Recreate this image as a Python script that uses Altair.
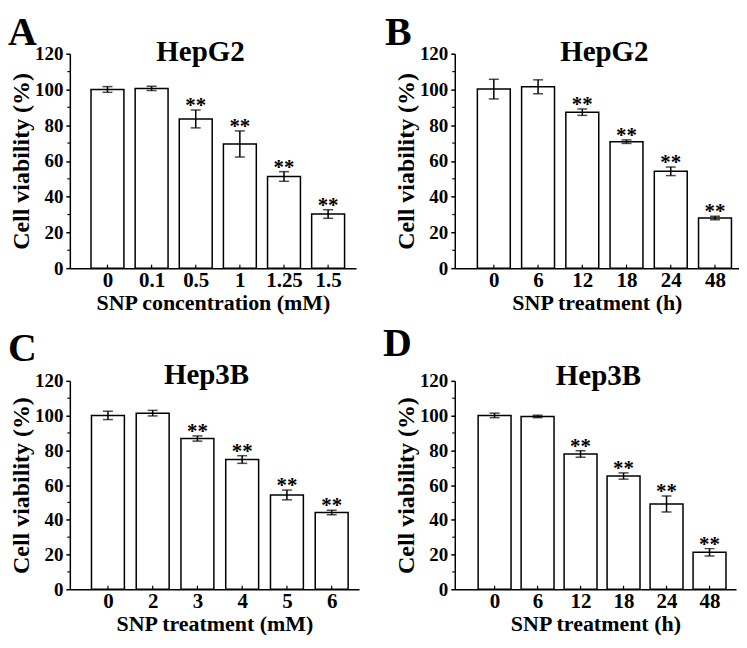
import altair as alt
import pandas as pd

FONT = "Liberation Serif"

# ---- data ----
a_labels = ["0", "0.1", "0.5", "1", "1.25", "1.5"]
a_values = [100.0, 100.6, 83.5, 69.5, 51.3, 30.3]
a_errors = [1.6, 1.2, 5.0, 7.3, 2.7, 2.4]
a_stars = ["", "", "**", "**", "**", "**"]

b_labels = ["0", "6", "12", "18", "24", "48"]
b_values = [100.2, 101.5, 87.3, 70.8, 54.2, 28.1]
b_errors = [5.5, 3.9, 1.8, 1.0, 2.4, 1.0]
b_stars = ["", "", "**", "**", "**", "**"]

c_labels = ["0", "2", "3", "4", "5", "6"]
c_values = [100.1, 101.4, 86.8, 74.7, 54.3, 44.2]
c_errors = [2.4, 1.6, 1.5, 2.2, 2.8, 1.3]
c_stars = ["", "", "**", "**", "**", "**"]

d_labels = ["0", "6", "12", "18", "24", "48"]
d_values = [100.1, 99.5, 77.9, 65.2, 49.1, 21.3]
d_errors = [1.3, 0.7, 1.9, 1.8, 4.6, 2.1]
d_stars = ["", "", "**", "**", "**", "**"]

y_major = [0, 20, 40, 60, 80, 100, 120]
y_minor = [10, 30, 50, 70, 90, 110]
y_title = "Cell viability (%)"


def panel(letter, title, xtitle, labels, values, errors, stars,
          width, height, xdom, bar, title_x, title_y, letter_x, letter_y):
    n = len(labels)
    df = pd.DataFrame({
        "idx": list(range(n)),
        "value": values,
        "lo": [v - e for v, e in zip(values, errors)],
        "hi": [v + e for v, e in zip(values, errors)],
        "sig": stars,
    })
    label_expr = "[" + ",".join("'%s'" % l for l in labels) + "][datum.value]"
    xscale = alt.Scale(domain=xdom, nice=False, zero=False)
    yscale = alt.Scale(domain=[0, 120], nice=False)
    xenc = alt.X("idx:Q", scale=xscale, title=xtitle,
                 axis=alt.Axis(values=list(range(n)), tickCount=20,
                               labelExpr=label_expr,
                               ticks=False, grid=False, labelFontSize=21,
                               titleFontSize=22, labelPadding=1, titlePadding=2,
                               labelFlush=False, labelOverlap=False))
    yenc = alt.Y("value:Q", scale=yscale, title=y_title,
                 axis=alt.Axis(values=y_major, tickCount=20, grid=False, tickSize=4,
                               labelFontSize=19, labelPadding=3,
                               labelOverlap=False, labelFlush=False,
                               titleFontSize=24, titlePadding=1))
    xo = alt.X("idx:Q", title=xtitle)

    bars = alt.Chart(df).mark_bar(size=bar, fill="white", stroke="black",
                                  strokeWidth=1.5).encode(x=xenc, y=yenc)
    err = alt.Chart(df).mark_rule(color="black", strokeWidth=1.5).encode(
        x=xo, y=alt.Y("lo:Q", title=y_title), y2="hi:Q")
    cap_hi = alt.Chart(df).mark_tick(orient="horizontal", size=10, thickness=1.5,
                                     color="black").encode(
        x=xo, y=alt.Y("hi:Q", title=y_title))
    cap_lo = alt.Chart(df).mark_tick(orient="horizontal", size=10, thickness=1.5,
                                     color="black").encode(
        x=xo, y=alt.Y("lo:Q", title=y_title))
    star = alt.Chart(df).transform_filter("datum.sig != ''").mark_text(
        font=FONT, fontWeight="bold", fontSize=21, baseline="alphabetic",
        dy=2, color="black").encode(
        x=xo, y=alt.Y("hi:Q", title=y_title), text="sig:N")
    xticks = alt.Chart(df).mark_rule(color="black", strokeWidth=1.2).encode(
        x=xo, y=alt.value(height), y2=alt.value(height - 3.5))
    minor = alt.Chart(pd.DataFrame({"value": y_minor})).mark_rule(
        color="black", strokeWidth=1.2).encode(
        y=alt.Y("value:Q", title=y_title), x=alt.value(-2.5), x2=alt.value(0))
    one = pd.DataFrame({"k": [0]})
    ttl = alt.Chart(one).mark_text(text=title, font=FONT, fontWeight="bold",
                                   fontSize=29, baseline="alphabetic",
                                   align="center", color="black").encode(
        x=alt.value(title_x), y=alt.value(title_y))
    let = alt.Chart(one).mark_text(text=letter, font=FONT, fontWeight="bold",
                                   fontSize=40, baseline="alphabetic",
                                   align="left", color="black").encode(
        x=alt.value(letter_x), y=alt.value(letter_y))
    return alt.layer(bars, err, cap_hi, cap_lo, star, xticks, minor, ttl, let).properties(
        width=width, height=height)


pa = panel("A", "HepG2", "SNP concentration (mM)", a_labels, a_values, a_errors, a_stars,
           287, 215, [-0.74, 5.52], 33, 131, 7, -62, -9)
pb = panel("B", "HepG2", "SNP treatment (h)", b_labels, b_values, b_errors, b_stars,
           285, 215, [-0.77, 5.43], 33, 150, 7, -70, -9)
pc = panel("C", "Hep3B", "SNP treatment (mM)", c_labels, c_values, c_errors, c_stars,
           290, 209, [-0.74, 5.5], 33, 137, 3, -62, -20)
pd_ = panel("D", "Hep3B", "SNP treatment (h)", d_labels, d_values, d_errors, d_stars,
            282, 209, [-0.81, 5.5], 33, 144, 4, -72, -25)

chart = alt.concat(pa, pb, pc, pd_, columns=2,
                   spacing={"row": 113, "column": 96},
                   bounds="flush", align="none").properties(
    padding={"top": 4, "left": 0, "right": 0, "bottom": 0}, background="white"
).configure_view(stroke=None).configure_axis(
    labelFont=FONT, titleFont=FONT, labelFontWeight="bold", titleFontWeight="bold",
    labelColor="black", titleColor="black", domainColor="black", tickColor="black",
    domainWidth=1.5, tickWidth=1.5
)

chart.save("out.html", embed_options={"renderer": "svg", "actions": False})
